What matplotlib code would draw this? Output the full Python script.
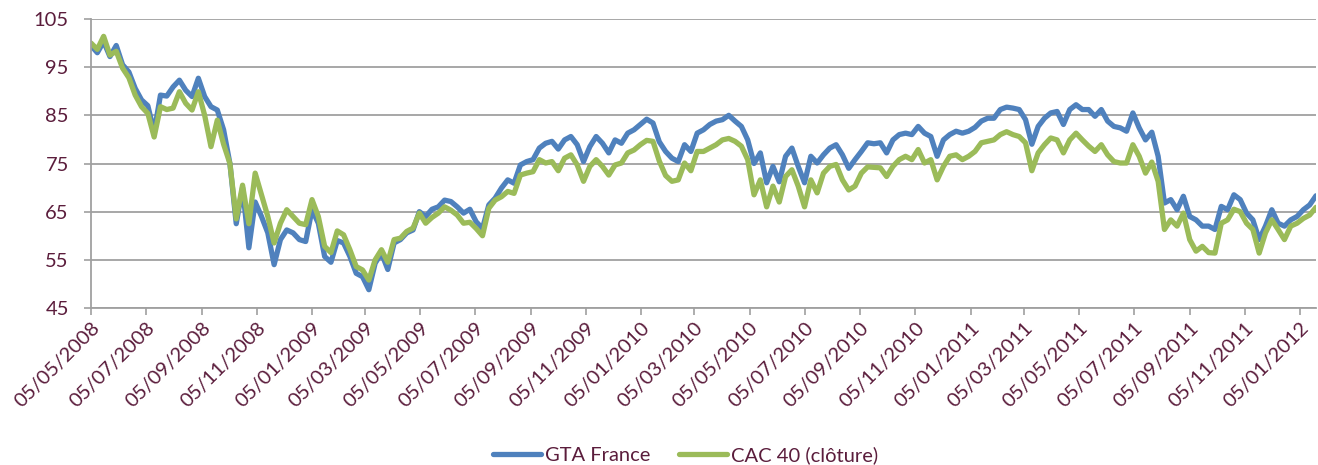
import matplotlib
matplotlib.use("Agg")
import matplotlib.pyplot as plt
import matplotlib.dates as mdates
import pandas as pd
import numpy as np

start_date = "2008-05-05"
n_weeks = 195

gta_france = [
    99.5, 98.0, 100.3, 97.2, 99.5, 95.5, 94.0, 90.6, 88.2, 87.0,
    81.5, 89.2, 89.0, 90.9, 92.3, 90.2, 88.9, 92.7, 88.9, 86.8,
    86.1, 82.0, 75.0, 62.5, 70.0, 57.5, 67.0, 64.0, 60.6, 54.0,
    59.2, 61.2, 60.6, 59.2, 58.8, 65.4, 62.6, 55.7, 54.5, 59.0,
    58.5, 55.7, 52.2, 51.5, 48.8, 54.3, 56.4, 53.0, 58.5, 59.2,
    60.6, 61.2, 65.0, 64.0, 65.5, 66.0, 67.4, 67.1, 66.0, 64.7,
    65.5, 62.9, 61.5, 66.4, 67.8, 69.9, 71.6, 70.9, 74.7, 75.4,
    75.8, 78.2, 79.2, 79.6, 78.0, 79.9, 80.6, 78.9, 75.4, 78.5,
    80.6, 79.2, 77.2, 79.9, 79.2, 81.3, 82.0, 83.1, 84.2, 83.4,
    79.5, 77.5, 76.1, 75.4, 78.9, 77.5, 81.3, 82.0, 83.1, 83.8,
    84.1, 85.0, 83.8, 82.7, 79.9, 75.0, 77.2, 71.0, 74.4, 71.2,
    76.5, 78.2, 74.4, 71.0, 76.5, 75.1, 76.8, 78.2, 78.9, 76.8,
    74.0, 75.8, 77.5, 79.3, 79.1, 79.3, 77.2, 79.9, 81.0, 81.3,
    81.0, 82.7, 81.3, 80.6, 76.5, 79.9, 81.0, 81.7, 81.3, 81.7,
    82.5, 83.8, 84.4, 84.4, 86.2, 86.7, 86.5, 86.2, 84.1, 79.0,
    82.7, 84.4, 85.5, 85.8, 83.1, 86.2, 87.2, 86.2, 86.2, 84.8,
    86.2, 83.8, 82.7, 82.4, 81.7, 85.5, 82.4, 79.9, 81.5, 76.5,
    66.8, 67.5, 65.4, 68.2, 64.0, 63.3, 62.0, 62.0, 61.3, 66.1,
    65.4, 68.5, 67.5, 64.7, 63.3, 59.2, 62.0, 65.4, 62.6, 62.0,
    63.3, 64.0, 65.4, 66.4, 68.3,
]

cac40 = [
    100.0, 98.7, 101.4, 97.5, 98.3, 94.8, 92.8, 89.2, 86.8, 85.4,
    80.5, 86.8, 86.2, 86.5, 89.9, 87.5, 86.1, 89.9, 85.0, 78.5,
    84.0, 79.0, 75.0, 63.5, 70.5, 62.5, 73.0, 68.5, 64.0, 58.5,
    62.6, 65.4, 64.0, 62.6, 62.3, 67.5, 64.0, 57.8, 56.5, 61.0,
    60.2, 57.1, 53.6, 52.9, 50.8, 55.0, 57.1, 54.5, 59.2, 59.5,
    60.9, 61.6, 64.7, 62.6, 63.8, 64.7, 66.0, 65.3, 64.3, 62.6,
    62.8, 61.5, 60.0, 65.7, 67.4, 68.1, 69.2, 68.8, 72.6, 73.0,
    73.3, 75.8, 75.1, 75.4, 73.5, 76.1, 76.8, 74.7, 71.3, 74.4,
    75.8, 74.4, 72.6, 74.7, 75.1, 77.2, 77.8, 78.9, 79.8, 79.6,
    75.5, 72.5, 71.3, 71.6, 75.1, 73.5, 77.5, 77.5, 78.2, 78.9,
    79.9, 80.2, 79.6, 78.6, 75.8, 68.5, 71.6, 66.0, 70.3, 67.0,
    72.3, 73.7, 70.3, 66.0, 71.6, 68.9, 73.0, 74.4, 74.8, 71.6,
    69.5, 70.3, 73.0, 74.3, 74.2, 74.1, 72.3, 74.4, 75.8, 76.5,
    75.8, 77.9, 75.1, 75.8, 71.6, 74.4, 76.5, 76.8, 75.8, 76.5,
    77.5, 79.3, 79.6, 79.9, 81.0, 81.6, 81.0, 80.6, 79.3, 73.5,
    77.2, 78.9, 80.3, 79.9, 77.2, 79.9, 81.3, 79.9, 78.6, 77.5,
    78.9, 76.8, 75.4, 75.1, 75.1, 78.9, 76.5, 73.0, 75.3, 71.3,
    61.3, 63.3, 62.0, 64.7, 59.2, 56.8, 57.8, 56.5, 56.4, 62.6,
    63.3, 65.5, 65.0, 62.6, 61.3, 56.4, 60.6, 63.3, 61.3, 59.2,
    62.0, 62.6, 63.6, 64.3, 65.9,
]

series_names = ["GTA France", "CAC 40 (clôture)"]
y_ticks = [45, 55, 65, 75, 85, 95, 105]
x_tick_dates = ["05/05/2008", "05/07/2008", "05/09/2008", "05/11/2008",
                "05/01/2009", "05/03/2009", "05/05/2009", "05/07/2009",
                "05/09/2009", "05/11/2009", "05/01/2010", "05/03/2010",
                "05/05/2010", "05/07/2010", "05/09/2010", "05/11/2010",
                "05/01/2011", "05/03/2011", "05/05/2011", "05/07/2011",
                "05/09/2011", "05/11/2011", "05/01/2012"]

dates = pd.date_range(start_date, periods=n_weeks, freq="7D")

plt.rcParams['font.family'] = ['Lato', 'DejaVu Sans']
label_color = "#5B1D3C"
blue = "#4F81BD"
green = "#9BBB59"
grid_color = "#A0A0A0"

fig = plt.figure(figsize=(13.18, 4.65), dpi=100)
ax = fig.add_axes([91/1318, 1 - 308/465, (1316 - 91)/1318, (308 - 19)/465])

ax.plot(dates, gta_france, color=blue, lw=3.8, label=series_names[0],
        solid_joinstyle="round", solid_capstyle="round")
ax.plot(dates, cac40, color=green, lw=3.8, label=series_names[1],
        solid_joinstyle="round", solid_capstyle="round")

ax.set_ylim(45, 105)
ax.set_yticks(y_ticks)
ax.set_xlim(pd.Timestamp(start_date), dates[-1])
tick_pos = pd.to_datetime(x_tick_dates, format="%d/%m/%Y")
ax.set_xticks(tick_pos)
ax.set_xticklabels(x_tick_dates, rotation=45, ha="right", rotation_mode="anchor")

ax.yaxis.grid(True, color=grid_color, lw=1.3)
ax.set_axisbelow(True)
for s in ["top", "right"]:
    ax.spines[s].set_visible(False)
for s in ["left", "bottom"]:
    ax.spines[s].set_color(grid_color)
    ax.spines[s].set_linewidth(1.3)

ax.tick_params(axis="both", colors=grid_color, width=1.2, length=5,
               labelcolor=label_color, labelsize=14.5)
ax.tick_params(axis="x", pad=3)
ax.tick_params(axis="y", pad=11)

leg = fig.legend(loc="center", bbox_to_anchor=(0.52, 1 - 455/465), ncol=2,
                 frameon=False, fontsize=14.5, handlelength=2.4,
                 handletextpad=0.2, columnspacing=1.4)
for line in leg.get_lines():
    line.set_linewidth(3.8)
for t in leg.get_texts():
    t.set_color(label_color)

fig.savefig("out.png", dpi=100)
